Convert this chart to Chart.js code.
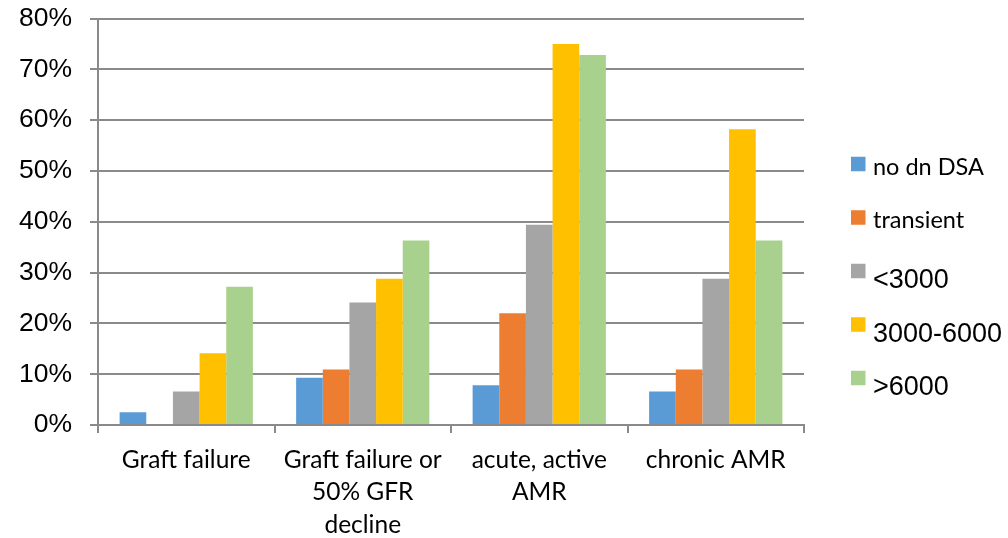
<!DOCTYPE html>
<html>
<head>
<meta charset="utf-8">
<script src="https://cdn.jsdelivr.net/npm/chart.js@4.4.1/dist/chart.umd.min.js"></script>
<style>
  html, body { margin: 0; padding: 0; background: #ffffff; }
  #wrap { width: 1008px; height: 538px; position: relative; }
</style>
</head>
<body>
<div id="wrap"><canvas id="chart" width="1008" height="538"></canvas></div>
<script>
// Outcome categories (multi-line labels as arrays)
const categories = [
  'Graft failure',
  ['Graft failure or', '50% GFR', 'decline'],
  ['acute, active', 'AMR'],
  'chronic AMR'
];

// Series names
const seriesNames = ['no dn DSA', 'transient', '<3000', '3000-6000', '>6000'];

// Percentages per category, one array per series
const noDnDSA        = [2.5, 9.3, 7.8, 6.6];
const transient      = [0, 10.9, 22.0, 10.9];
const below3000      = [6.6, 24.1, 39.4, 28.8];
const from3000to6000 = [14.1, 28.8, 75.0, 58.2];
const above6000      = [27.2, 36.3, 72.8, 36.3];

// Value axis range
const yMin = 0;
const yMax = 80;
const yStep = 10;

const seriesColors = ['#5B9BD5', '#ED7D31', '#A5A5A5', '#FFC000', '#A9D18E'];
const seriesValues = [noDnDSA, transient, below3000, from3000to6000, above6000];

const axisGray = '#8a8a8a';

// Legend on the right, drawn with per-item fonts
const legendPlugin = {
  id: 'sideLegend',
  afterDraw(chart) {
    const ctx = chart.ctx;
    const boxX = 851, boxSize = 14.5, textX = 873;
    const firstRow = 164, rowStep = 53.5;
    const fonts = [
      { font: '23.5px Lato', drop: 10.5 },
      { font: '23.5px Lato', drop: 10.5 },
      { font: '27px "Liberation Sans", Arial, sans-serif', drop: 17 },
      { font: '27px "Liberation Sans", Arial, sans-serif', drop: 17 },
      { font: '27px "Liberation Sans", Arial, sans-serif', drop: 17 }
    ];
    ctx.save();
    chart.data.datasets.forEach((ds, i) => {
      const cy = firstRow + i * rowStep;
      ctx.fillStyle = ds.backgroundColor;
      ctx.fillRect(boxX, cy - boxSize / 2, boxSize, boxSize);
      ctx.fillStyle = '#000000';
      ctx.font = fonts[i].font;
      ctx.textBaseline = 'alphabetic';
      ctx.textAlign = 'left';
      ctx.fillText(ds.label, textX, cy + fonts[i].drop);
    });
    ctx.restore();
  }
};

new Chart(document.getElementById('chart'), {
  type: 'bar',
  data: {
    labels: categories,
    datasets: seriesNames.map((name, i) => ({
      label: name,
      data: seriesValues[i],
      backgroundColor: seriesColors[i],
      borderWidth: 0,
      categoryPercentage: 0.755,
      barPercentage: 1.0
    }))
  },
  options: {
    responsive: false,
    animation: false,
    devicePixelRatio: 1,
    layout: { padding: { top: 18.5, right: 204, bottom: 0, left: 0 } },
    plugins: {
      legend: { display: false },
      tooltip: { enabled: false }
    },
    scales: {
      x: {
        offset: true,
        grid: {
          display: true,
          drawOnChartArea: false,
          drawTicks: true,
          tickLength: 8,
          color: axisGray,
          lineWidth: 2,
          offset: true
        },
        border: { display: true, color: axisGray, width: 2 },
        ticks: {
          autoSkip: false,
          maxRotation: 0,
          minRotation: 0,
          padding: 11,
          color: '#000000',
          font: { family: 'Lato', size: 24.5, lineHeight: 1.32 }
        },
        afterFit(scale) { scale.height = 113; }
      },
      y: {
        min: yMin,
        max: yMax,
        grid: {
          color: axisGray,
          lineWidth: 2,
          drawTicks: true,
          tickLength: 8
        },
        border: { display: true, color: axisGray, width: 2 },
        ticks: {
          stepSize: yStep,
          padding: 18,
          color: '#000000',
          font: { family: '"Liberation Sans", Arial, sans-serif', size: 26.5 },
          callback: v => v + '%'
        },
        afterFit(scale) {
          scale.width = 98;
          scale.paddingTop = 0;
          scale.paddingBottom = 0;
        }
      }
    }
  },
  plugins: [legendPlugin]
});
</script>
</body>
</html>
